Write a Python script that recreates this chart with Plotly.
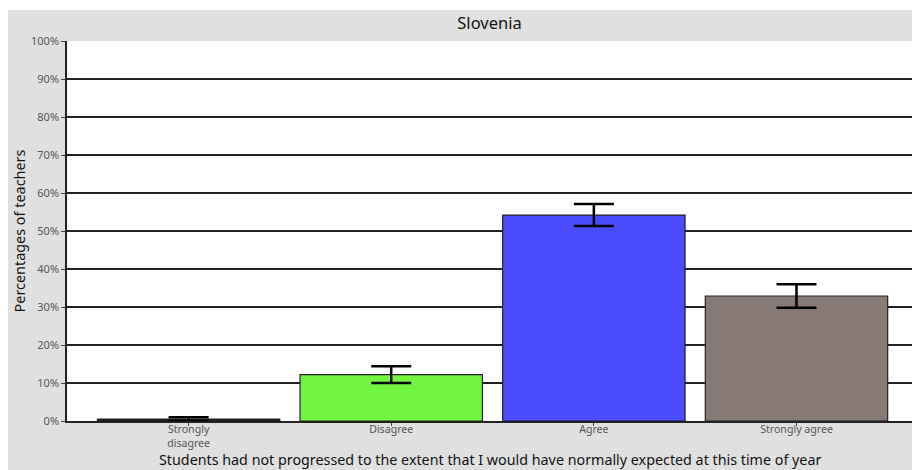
import plotly.graph_objects as go

categories = ["Strongly<br>disagree", "Disagree", "Agree", "Strongly agree"]
values = [0.5, 12.2, 54.2, 32.9]
errors = [0.5, 2.2, 2.9, 3.1]
colors = ["#1a1a1a", "#74f542", "#4b4bff", "#877a76"]
y_ticks = [0, 10, 20, 30, 40, 50, 60, 70, 80, 90, 100]
y_tick_labels = [f"{v}%" for v in y_ticks]
x_title = "Students had not progressed to the extent that I would have normally expected at this time of year"

fig = go.Figure()
fig.add_trace(go.Bar(
    x=list(range(len(categories))),
    y=values,
    width=0.9,
    marker=dict(color=colors, line=dict(color="#222222", width=1.2)),
    error_y=dict(type="data", array=errors, visible=True, color="black", thickness=2.5, width=20),
    showlegend=False,
))

fig.update_layout(
    width=912, height=470,
    margin=dict(l=67, r=0, t=41, b=49),
    paper_bgcolor="#e0e0e0",
    plot_bgcolor="white",
    font=dict(family="Noto Sans", color="#222222"),
    title=dict(text="Slovenia", xref="paper", x=0.5, xanchor="center", y=0.951, yanchor="middle",
               font=dict(size=16.5, color="#111111")),
    bargap=0.1,
    shapes=[
        dict(type="rect", xref="paper", yref="paper", x0=-0.1, x1=1.01, y0=1.0 + 31/380, y1=1.2,
             fillcolor="white", line=dict(width=0), layer="above"),
        dict(type="rect", xref="paper", yref="paper", x0=-0.2, x1=-59/845, y0=-0.2, y1=1.2,
             fillcolor="white", line=dict(width=0), layer="above"),
    ],
    annotations=[
        dict(text=x_title, xref="paper", yref="paper", x=0.5, y=-49/380,
             xanchor="center", yanchor="bottom", showarrow=False, borderpad=0,
             font=dict(size=14.3, color="#111111")),
    ],
)

fig.update_xaxes(
    tickmode="array", tickvals=list(range(len(categories))), ticktext=categories,
    range=[-0.6, 3.57],
    showline=True, linecolor="#222222", linewidth=1.5,
    ticks="outside", ticklen=3, tickcolor="#444444",
    ticklabelstandoff=-5,
    tickfont=dict(size=10.6, color="#555555"),
    showgrid=False, zeroline=False,
)
fig.update_yaxes(
    range=[0, 100],
    tickmode="array", tickvals=y_ticks, ticktext=y_tick_labels,
    showline=True, linecolor="#222222", linewidth=1.5,
    ticks="outside", ticklen=4, tickcolor="#444444",
    tickfont=dict(size=11, color="#555555"),
    showgrid=True, gridcolor="#222222", gridwidth=1.5,
    zeroline=False,
    title=dict(text="Percentages of teachers", font=dict(size=14.4, color="#111111"), standoff=2),
)

fig.write_html("out.html")
